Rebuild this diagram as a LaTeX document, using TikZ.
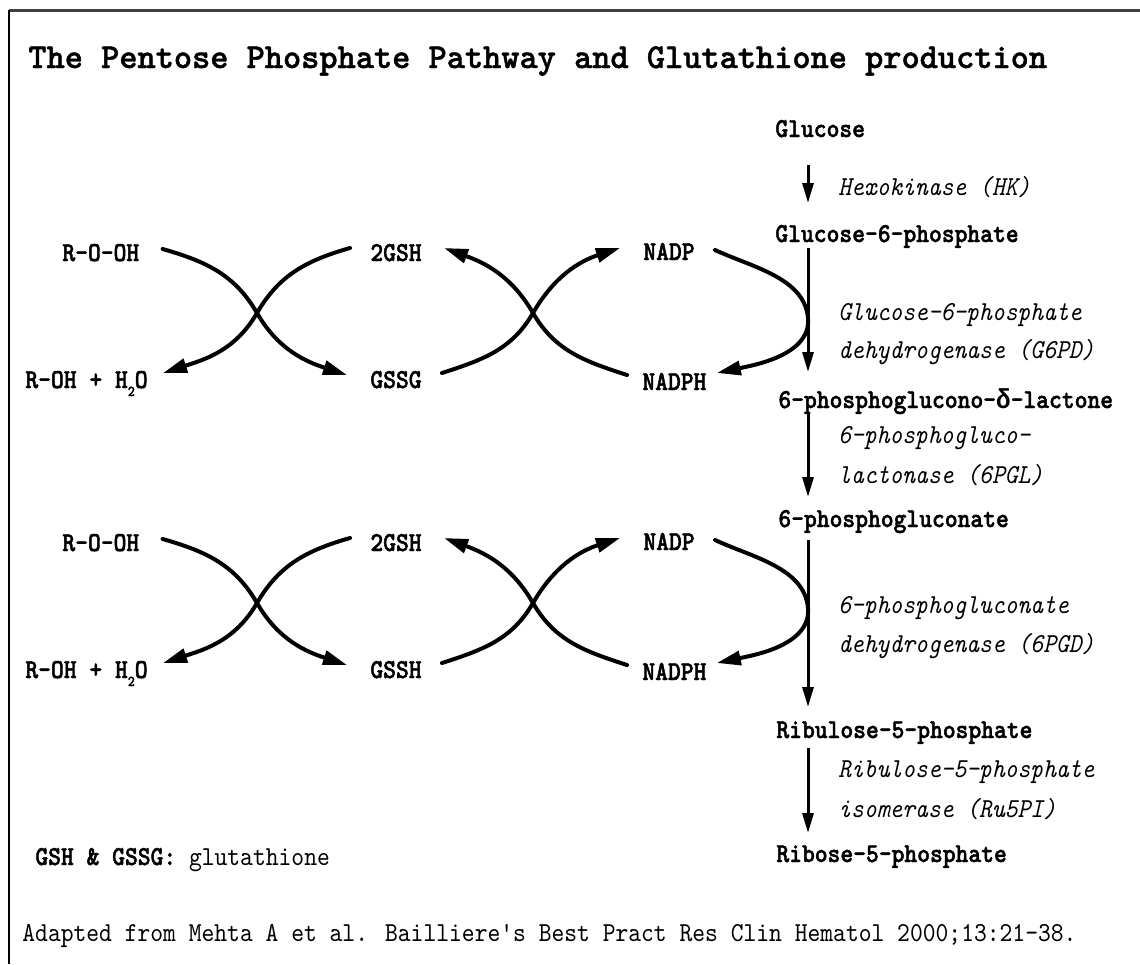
\documentclass[tikz,border=0pt]{standalone}
\usepackage{fontspec}
\usetikzlibrary{arrows.meta,calc}
\newfontfamily\labfont{lmmono10-regular}[Extension=.otf, BoldFont=lmmonolt10-bold,
  ItalicFont=lmmono10-italic, FakeStretch=0.89, Ligatures=TeXOff,
  BoldFeatures={FakeBold=1.6}]
\newfontfamily\headfont{lmmono10-regular}[Extension=.otf, BoldFont=lmmonolt10-bold,
  FakeStretch=0.99, Ligatures=TeXOff, BoldFeatures={FakeBold=1.2}]
\newfontfamily\greekfont[FakeStretch=0.89]{Liberation Mono}
\newcommand\labsize{\fontsize{13.7pt}{16pt}\selectfont}
\newcommand\subtwo{{\fontsize{7.5pt}{7.5pt}\selectfont\raisebox{-4pt}{2}}}
\newcommand\gdelta{{\greekfont δ}}

\begin{document}
\begin{tikzpicture}[x=0.5pt,y=-0.5pt,
  chem/.style={font=\labfont\bfseries\labsize, inner sep=0pt, anchor=base west},
  enz/.style={font=\labfont\itshape\labsize, inner sep=0pt, anchor=base west},
  plain/.style={font=\labfont\labsize, inner sep=0pt, anchor=base west},
  curve/.style={line width=2pt, line cap=round},
  tip/.style={-{Triangle[length=12pt,width=7pt]}},
  stepar/.style={line width=1.5pt, -{Triangle[length=10pt,width=5.5pt]}},
]
\useasboundingbox (0,0) rectangle (1140,964);

% frame
\draw[line width=1.5pt, black!75] (9,10) -- (1140,10);
\draw[line width=1pt] (9,10) -- (9,964);

% title
\node[font=\headfont\bfseries\fontsize{17.5pt}{19pt}\selectfont, inner sep=0pt, anchor=base west]
  (title) at (28,68) {The Pentose Phosphate Pathway and Glutathione production};

% pentose phosphate pathway column
\coordinate (ax) at (808,0);
\node[chem] (glc)  at (775,137) {Glucose};
\node[chem] (g6p)  at (775,242) {Glucose-6-phosphate};
\node[chem] (lac)  at (778,408) {6-phosphoglucono-\gdelta-lactone};
\node[chem] (pg)   at (778,527) {6-phosphogluconate};
\node[chem] (ru5p) at (776,738) {Ribulose-5-phosphate};
\node[chem] (r5p)  at (776,862) {Ribose-5-phosphate};

\node[enz] (hk)    at (838,195) {Hexokinase (HK)};
\node[enz] (g6pd1) at (838,320) {Glucose-6-phosphate};
\node[enz] (g6pd2) at (838,358) {dehydrogenase (G6PD)};
\node[enz] (pgl1)  at (838,443) {6-phosphogluco-};
\node[enz] (pgl2)  at (838,483) {lactonase (6PGL)};
\node[enz] (pgd1)  at (838,613) {6-phosphogluconate};
\node[enz] (pgd2)  at (838,652) {dehydrogenase (6PGD)};
\node[enz] (rpi1)  at (838,777) {Ribulose-5-phosphate};
\node[enz] (rpi2)  at (838,817) {isomerase (Ru5PI)};

\draw[stepar] ($(glc.base -| ax)+(0,28)$)  -- ($(g6p.base -| ax)+(0,-39)$);
\draw[stepar] ($(g6p.base -| ax)+(0,6)$)   -- ($(lac.base -| ax)+(0,-36)$);
\draw[stepar] ($(lac.base -| ax)+(0,4)$)   -- ($(pg.base -| ax)+(0,-30)$);
\draw[stepar] ($(pg.base -| ax)+(0,13)$)   -- ($(ru5p.base -| ax)+(0,-31)$);
\draw[stepar] ($(ru5p.base -| ax)+(0,10)$) -- ($(r5p.base -| ax)+(0,-29)$);

% glutathione / NADPH coupling, two identical rows
\foreach \i/\dy/\ox in {1/0/GSSG, 2/290/GSSH}{
  \begin{scope}[yshift={-0.5pt*\dy}]
    \node[chem] (rooh\i)  at (62,261)  {R-O-OH};
    \node[chem] (roh\i)   at (25,388)  {R-OH + H\subtwo O};
    \node[chem] (gsh\i)   at (370,261) {2GSH};
    \node[chem] (gssg\i)  at (370,388) {\ox};
    \node[chem] (nadp\i)  at (643,260) {NADP};
    \node[chem] (nadph\i) at (642,390) {NADPH};
    \coordinate (xa\i) at (257,313);
    \coordinate (xb\i) at (533,313);
    \coordinate (tp\i) at (808,318);

    % peroxide reduction
    \draw[curve,tip] ($(rooh\i.base east)+(23,-12)$) to[out=-16,in=120] (xa\i)
      to[out=-60,in=162] ($(gssg\i.base west)+(-23,-13)$);
    \draw[curve,tip] ($(gsh\i.base west)+(-20,-13)$) to[out=196,in=60] (xa\i)
      to[out=-120,in=18] ($(roh\i.base east)+(15,-15)$);

    % glutathione reductase
    \draw[curve,tip] ($(gssg\i.base east)+(20,-15)$) to[out=18,in=-120] (xb\i)
      to[out=60,in=-162] ($(nadp\i.base west)+(-23,-12)$);
    \draw[curve,tip] ($(nadph\i.base west)+(-15,-15)$) to[out=162,in=-60] (xb\i)
      to[out=120,in=-20] ($(gsh\i.base east)+(22,-13)$);

    % NADP regeneration at the dehydrogenase step
    \draw[curve,tip] ($(nadp\i.base east)+(20,-10)$) to[out=-25,in=95,looseness=0.9] (tp\i)
      to[out=-85,in=12,looseness=0.9] ($(nadph\i.base east)+(10,-17)$);
  \end{scope}
}

% notes
\node[plain] (gnote) at (35,865) {{\bfseries GSH \& GSSG:} glutathione};
\node[plain] (src) at (22,941)
  {Adapted from Mehta A et al. Bailliere's Best Pract Res Clin Hematol 2000;13:21-38.};
\end{tikzpicture}
\end{document}
